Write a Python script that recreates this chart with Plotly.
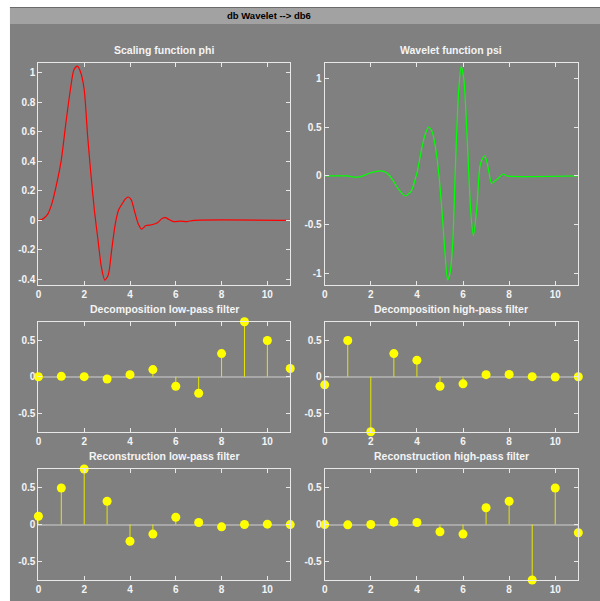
import plotly.graph_objects as go

# ---- db6 scaling function phi (sampled) ----
phi_x = [0, 0.2, 0.4, 0.6, 0.8, 1.0, 1.2, 1.4, 1.55, 1.7, 1.85, 2.0, 2.15, 2.3, 2.45,
         2.6, 2.75, 2.9, 3.05, 3.2, 3.35, 3.5, 3.65, 3.8, 3.92, 4.05, 4.2, 4.35, 4.5,
         4.7, 4.95, 5.2, 5.4, 5.55, 5.7, 5.9, 6.2, 6.5, 6.8, 11]
phi_y = [0, 0.01, 0.04, 0.12, 0.25, 0.41, 0.66, 0.89, 1.02, 1.045, 1.0, 0.885, 0.57,
         0.30, 0.06, -0.13, -0.317, -0.405, -0.37, -0.2, -0.03, 0.07, 0.11, 0.145,
         0.158, 0.14, 0.06, -0.02, -0.06, -0.035, -0.03, -0.016, 0.013, 0.018, 0.006,
         -0.009, -0.005, -0.008, 0, 0]

# ---- db6 wavelet function psi (sampled) ----
psi_x = [0, 1.0, 1.2, 1.4, 1.6, 1.9, 2.2, 2.45, 2.7, 2.95, 3.2, 3.5, 3.75, 4.0, 4.2,
         4.35, 4.5, 4.65, 4.8, 4.95, 5.1, 5.22, 5.33, 5.43, 5.55, 5.68, 5.8, 5.92,
         6.04, 6.19, 6.33, 6.45, 6.59, 6.73, 6.85, 6.95, 7.08, 7.24, 7.48, 7.74, 7.9, 11]
psi_y = [0, 0, -0.01, -0.012, -0.005, 0.025, 0.045, 0.052, 0.03, -0.04, -0.135, -0.205,
         -0.155, 0.03, 0.27, 0.42, 0.50, 0.46, 0.30, 0.02, -0.40, -0.80, -1.063, -1.0,
         -0.70, 0.164, 0.83, 1.12, 0.98, 0.33, -0.35, -0.61, -0.35, 0.095, 0.18, 0.205,
         0.095, -0.075, -0.034, 0.02, 0, 0]

# ---- db6 filters ----
lo_d = [-0.0011, 0.0048, 0.0006, -0.0316, 0.0275, 0.0975, -0.1298, -0.2263, 0.3153, 0.7511, 0.4946, 0.1115]
hi_d = [-0.1115, 0.4946, -0.7511, 0.3153, 0.2263, -0.1298, -0.0975, 0.0275, 0.0316, 0.0006, -0.0048, -0.0011]
lo_r = [0.1115, 0.4946, 0.7511, 0.3153, -0.2263, -0.1298, 0.0975, 0.0275, -0.0316, 0.0006, 0.0048, -0.0011]
hi_r = [-0.0011, -0.0048, 0.0006, 0.0316, 0.0275, -0.0975, -0.1298, 0.2263, 0.3153, -0.7511, 0.4946, -0.1115]

x_ticks = [0, 2, 4, 6, 8, 10]
x_ticktext = ["0", "2", "4", "6", "8", "10"]
phi_yticks = [-0.4, -0.2, 0, 0.2, 0.4, 0.6, 0.8, 1]
phi_yticktext = ["-0.4", "-0.2", "0", "0.2", "0.4", "0.6", "0.8", "1"]
psi_yticks = [-1, -0.5, 0, 0.5, 1]
psi_yticktext = ["-1", "-0.5", "0", "0.5", "1"]
filt_yticks = [-0.5, 0, 0.5]
filt_yticktext = ["-0.5", "0", "0.5"]

titles = ["Scaling function phi", "Wavelet function psi",
          "Decomposition low-pass filter", "Decomposition high-pass filter",
          "Reconstruction low-pass filter", "Reconstruction high-pass filter"]
main_title = "db Wavelet --> db6"

W, H = 600, 601
BG = "#808080"
FRAME = "#e8e8e8"
TXT = "#f4f4f4"
TICKFONT = dict(family="Liberation Sans, Arial, sans-serif", size=10, color=TXT, weight="bold")

def px_x(p):
    return p / W

def px_y(p):
    return 1 - p / H

col_l = [px_x(35.6), px_x(288.7)]
col_r = [px_x(323.3), px_x(578.2)]
row1 = [px_y(285), px_y(62.7)]
row2 = [px_y(431.7), px_y(321.7)]
row3 = [px_y(580), px_y(469)]

fig = go.Figure()

# curves
fig.add_trace(go.Scatter(x=phi_x, y=phi_y, mode="lines", line=dict(color="#ff0000", width=1.2, shape="spline", smoothing=0.7),
                         xaxis="x", yaxis="y", showlegend=False, hoverinfo="skip"))
fig.add_trace(go.Scatter(x=psi_x, y=psi_y, mode="lines", line=dict(color="#00ff00", width=1.2, shape="spline", smoothing=0.6),
                         xaxis="x2", yaxis="y2", showlegend=False, hoverinfo="skip"))

# stem plots
filters = [(lo_d, "x3", "y3"), (hi_d, "x4", "y4"), (lo_r, "x5", "y5"), (hi_r, "x6", "y6")]
for vals, xa, ya in filters:
    idx = list(range(len(vals)))
    sx, sy = [], []
    for i, v in zip(idx, vals):
        sx += [i, i, None]
        sy += [0, v, None]
    fig.add_trace(go.Scatter(x=sx, y=sy, mode="lines", line=dict(color="#e6e600", width=1),
                             xaxis=xa, yaxis=ya, showlegend=False, hoverinfo="skip", cliponaxis=False))
    fig.add_trace(go.Scatter(x=idx, y=vals, mode="markers", marker=dict(color="#ffff00", size=9, line=dict(width=0)),
                             xaxis=xa, yaxis=ya, showlegend=False, hoverinfo="skip", cliponaxis=False))

def xax(domain, anchor):
    return dict(domain=domain, anchor=anchor, range=[0, 11], tickvals=x_ticks, ticktext=x_ticktext,
                ticks="inside", ticklen=4, tickcolor=FRAME, showline=True, linecolor=FRAME, linewidth=1,
                mirror="ticks", showgrid=False, zeroline=False, tickfont=TICKFONT, fixedrange=True)

def yax(domain, anchor, rng, tv, tt, zero=False):
    return dict(domain=domain, anchor=anchor, range=rng, tickvals=tv, ticktext=tt,
                ticks="inside", ticklen=4, tickcolor=FRAME, showline=True, linecolor=FRAME, linewidth=1,
                mirror="ticks", showgrid=False, zeroline=zero, zerolinecolor="#a8a8a8", zerolinewidth=1.5,
                tickfont=TICKFONT, fixedrange=True)

fm = max(abs(v) for v in lo_d)

fig.update_layout(
    width=W, height=H, margin=dict(l=0, r=0, t=0, b=0),
    paper_bgcolor="white", plot_bgcolor="black",
    xaxis=xax(col_l, "y"), yaxis=yax(row1, "x", [-0.438, 1.068], phi_yticks, phi_yticktext),
    xaxis2=xax(col_r, "y2"), yaxis2=yax(row1, "x2", [-1.115, 1.158], psi_yticks, psi_yticktext),
    xaxis3=xax(col_l, "y3"), yaxis3=yax(row2, "x3", [-fm, fm], filt_yticks, filt_yticktext, True),
    xaxis4=xax(col_r, "y4"), yaxis4=yax(row2, "x4", [-fm, fm], filt_yticks, filt_yticktext, True),
    xaxis5=xax(col_l, "y5"), yaxis5=yax(row3, "x5", [-fm, fm], filt_yticks, filt_yticktext, True),
    xaxis6=xax(col_r, "y6"), yaxis6=yax(row3, "x6", [-fm, fm], filt_yticks, filt_yticktext, True),
)

# window background and title bar
fig.add_shape(type="rect", xref="paper", yref="paper", x0=px_x(7), x1=1, y0=0, y1=px_y(7),
              fillcolor=BG, line=dict(width=0), layer="below")
fig.add_shape(type="rect", xref="paper", yref="paper", x0=px_x(7), x1=1, y0=px_y(24), y1=px_y(7),
              fillcolor="#a2a2a2", line=dict(width=0), layer="below")
fig.add_shape(type="line", xref="paper", yref="paper", x0=px_x(7), x1=1, y0=px_y(7.5), y1=px_y(7.5),
              line=dict(color="#6a6a6a", width=1), layer="below")

fig.add_annotation(text=main_title, xref="paper", yref="paper", x=px_x(267), y=px_y(15.5),
                   xanchor="center", yanchor="middle", showarrow=False,
                   font=dict(family="Liberation Sans, Arial, sans-serif", size=9.5, color="black", weight="bold"))

title_pos = [(col_l, row1), (col_r, row1), (col_l, row2), (col_r, row2), (col_l, row3), (col_r, row3)]
for t, (c, r) in zip(titles, title_pos):
    fig.add_annotation(text=t, xref="paper", yref="paper", x=(c[0] + c[1]) / 2, y=r[1],
                       xanchor="center", yanchor="bottom", yshift=5, showarrow=False,
                       font=dict(family="Liberation Sans Narrow, Liberation Sans, Arial, sans-serif",
                                 size=10.5, color=TXT, weight="bold"))

fig.write_html("out.html")
